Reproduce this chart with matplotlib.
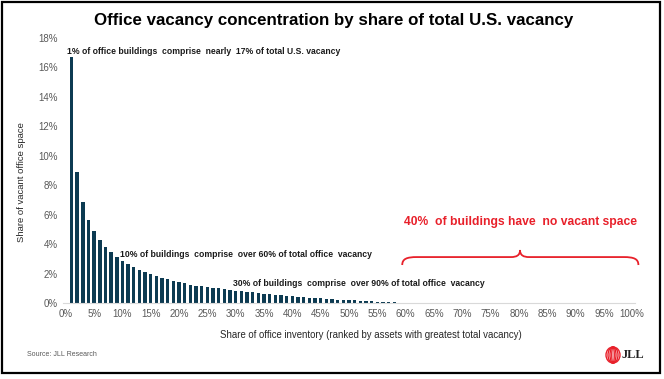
import matplotlib.pyplot as plt
from matplotlib.patches import Rectangle, Ellipse, PathPatch
from matplotlib.path import Path

# share of inventory (%) and share of vacant space (%)
share_inventory = list(range(1, 60))
share_vacant = [16.74, 8.87, 6.83, 5.65, 4.86, 4.27, 3.82, 3.46, 3.14, 2.87,
                2.65, 2.42, 2.26, 2.10, 1.97, 1.83, 1.72, 1.61, 1.50, 1.41,
                1.34, 1.25, 1.18, 1.14, 1.10, 1.04, 0.99, 0.95, 0.90, 0.84,
                0.80, 0.76, 0.72, 0.68, 0.64, 0.60, 0.56, 0.52, 0.49, 0.46,
                0.43, 0.40, 0.37, 0.34, 0.31, 0.28, 0.26, 0.23, 0.21, 0.19,
                0.17, 0.15, 0.13, 0.11, 0.09, 0.07, 0.06, 0.04, 0.03]
x_ticks = list(range(0, 101, 5))
y_ticks = list(range(0, 19, 2))

BAR = '#0D3B52'
RED = '#E8202A'
GRAY = '#595959'

plt.rcParams['font.family'] = ['Liberation Sans', 'DejaVu Sans']

fig = plt.figure(figsize=(6.64, 3.79), dpi=100)
ax = fig.add_axes([63 / 664, 1 - 303 / 379, 572 / 664, 265 / 379])

ax.bar(share_inventory, share_vacant, width=0.6, color=BAR)
ax.set_xlim(-0.5, 100.5)
ax.set_ylim(0, 18)
ax.set_xticks(x_ticks)
ax.set_xticklabels([f'{t}%' for t in x_ticks], fontsize=7, color=GRAY)
ax.set_yticks(y_ticks)
ax.set_yticklabels([f'{t}%' for t in y_ticks], fontsize=7, color=GRAY)
ax.tick_params(length=0, pad=4)
for s in ['top', 'right', 'left']:
    ax.spines[s].set_visible(False)
ax.spines['bottom'].set_color('#D9D9D9')

fig.text(22 / 664, 1 - 182 / 379, 'Share of vacant office space', fontsize=6.8,
         color='#262626', rotation=90, ha='center', va='center')
fig.text(371 / 664, 1 - 335 / 379,
         'Share of office inventory (ranked by assets with greatest total vacancy)',
         fontsize=6.9, color='#262626', ha='center', va='center')

# annotations
note = dict(fontsize=6.2, fontweight='bold', va='center', color='#1a1a1a')
ax.text(0.2, 17.1, '1% of office buildings  comprise  nearly  17% of total U.S. vacancy', **note)
ax.text(9.6, 3.3, '10% of buildings  comprise  over 60% of total office  vacancy', **note)
ax.text(29.6, 1.35, '30% of buildings  comprise  over 90% of total office  vacancy', **note)
ax.text(80.2, 5.5, '40%  of buildings have  no vacant space', fontsize=8.7,
        fontweight='bold', color=RED, ha='center', va='center')

# curly bracket over the empty 60-100% range
x0, xm, x1 = 59.4, 80.2, 101.1
yb, yf, yc = 2.58, 3.12, 3.6
verts = [(x0, yb), (x0, yf - 0.12), (x0 + 0.8, yf), (x0 + 2.6, yf),
         (xm - 1.6, yf),
         (xm - 0.6, yf), (xm, yf + 0.12), (xm, yc),
         (xm, yf + 0.12), (xm + 0.6, yf), (xm + 1.6, yf),
         (x1 - 2.6, yf),
         (x1 - 0.8, yf), (x1, yf - 0.12), (x1, yb)]
codes = [Path.MOVETO, Path.CURVE4, Path.CURVE4, Path.CURVE4,
         Path.LINETO,
         Path.CURVE4, Path.CURVE4, Path.CURVE4,
         Path.CURVE4, Path.CURVE4, Path.CURVE4,
         Path.LINETO,
         Path.CURVE4, Path.CURVE4, Path.CURVE4]
ax.add_patch(PathPatch(Path(verts, codes), facecolor='none', edgecolor=RED,
                       lw=1.3, clip_on=False))

fig.text(334 / 664, 0.945, 'Office vacancy concentration by share of total U.S. vacancy',
         fontsize=12.2, fontweight='bold', ha='center', va='center')
fig.text(27 / 664, 1 - 355 / 379, 'Source: JLL Research', fontsize=5, color=GRAY, va='center')

# JLL logo
for w in [14, 10, 6, 2.5]:
    fig.add_artist(Ellipse((613 / 664, 1 - 355 / 379), w / 664, 16 / 379,
                           facecolor='none', edgecolor=RED, lw=1.0))
fig.text(622 / 664, 1 - 355 / 379, 'JLL', fontsize=9, fontweight='bold',
         family='Liberation Serif', va='center', color='#222222')

# frame around the whole picture
fig.add_artist(Rectangle((2 / 664, 6 / 379), 658 / 664, 371 / 379, transform=fig.transFigure,
                         facecolor='none', edgecolor='black', lw=1.6))

fig.savefig('out.png', dpi=100)
